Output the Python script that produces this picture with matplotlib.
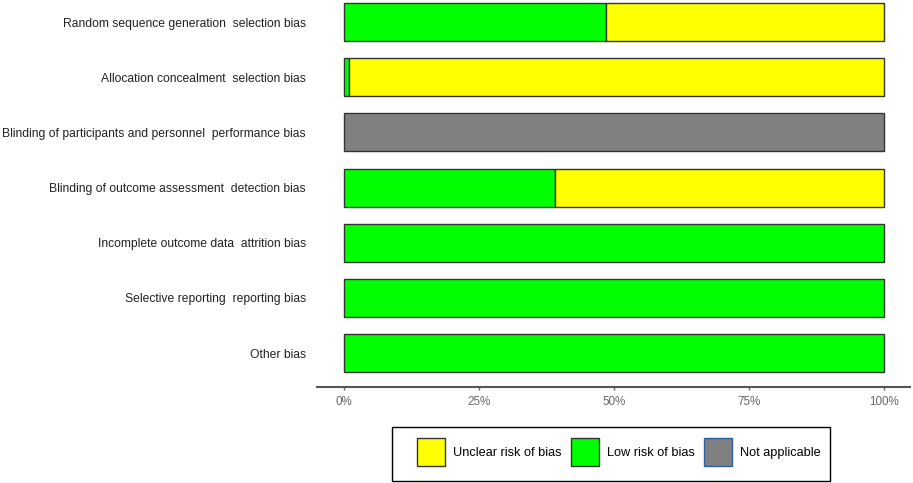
import matplotlib.pyplot as plt
from matplotlib.patches import Patch, Rectangle

# risk of bias domains, top to bottom
domains = [
    "Random sequence generation  selection bias",
    "Allocation concealment  selection bias",
    "Blinding of participants and personnel  performance bias",
    "Blinding of outcome assessment  detection bias",
    "Incomplete outcome data  attrition bias",
    "Selective reporting  reporting bias",
    "Other bias",
]
low_risk = [48.5, 1.0, 0.0, 39.0, 100.0, 100.0, 100.0]
unclear_risk = [51.5, 99.0, 0.0, 61.0, 0.0, 0.0, 0.0]
not_applicable = [0.0, 0.0, 100.0, 0.0, 0.0, 0.0, 0.0]

tick_vals = [0, 25, 50, 75, 100]
tick_labels = ["0%", "25%", "50%", "75%", "100%"]

c_low = "#00ff00"
c_unclear = "#ffff00"
c_na = "#808080"
edge = "#333333"

plt.rcParams['font.family'] = ['Liberation Sans', 'DejaVu Sans']

W, H = 913, 483
fig = plt.figure(figsize=(W / 100, H / 100), dpi=100)
ax = fig.add_axes([317 / W, 1 - 387 / H, 593 / W, 387 / H])

n = len(domains)
ypos = [n - 1 - i for i in range(n)]
h = 0.69

left = [0.0] * n
for vals, col in [(low_risk, c_low), (unclear_risk, c_unclear), (not_applicable, c_na)]:
    for y, l, v in zip(ypos, left, vals):
        if v > 0:
            ax.barh(y, v, left=l, height=h, color=col, edgecolor=edge, linewidth=1.0)
    left = [a + b for a, b in zip(left, vals)]

ax.set_xlim(-5, 104.8)
ax.set_ylim(-0.616, n - 1 + 0.40)

ax.set_yticks(ypos)
ax.set_yticklabels(domains, fontsize=8.7, color="#222222")
ax.tick_params(axis='y', length=0, pad=8)

ax.set_xticks(tick_vals)
ax.set_xticklabels(tick_labels, fontsize=8.4, color="#666666")
ax.tick_params(axis='x', length=2.5, width=1, color="#666666", pad=4)

for s in ['top', 'right', 'left']:
    ax.spines[s].set_visible(False)
ax.spines['bottom'].set_color("#555555")
ax.spines['bottom'].set_linewidth(1.5)

# legend frame drawn separately to match the wide side padding
fig.patches.append(Rectangle((392 / W, 1 - 481 / H), 438 / W, 54 / H,
                             transform=fig.transFigure, fill=False,
                             edgecolor="black", linewidth=1.0))

handles = [
    Patch(facecolor=c_unclear, edgecolor=edge, label="Unclear risk of bias"),
    Patch(facecolor=c_low, edgecolor=edge, label="Low risk of bias"),
    Patch(facecolor=c_na, edgecolor="#3060a0", label="Not applicable"),
]
fig.legend(handles=handles, loc='center', bbox_to_anchor=(619 / W, 1 - 452 / H),
           ncol=3, fontsize=9.2, frameon=False, handlelength=2.2, handleheight=3.1,
           columnspacing=0.75, handletextpad=0.6, borderpad=0, borderaxespad=0)

fig.savefig("out.png", dpi=100)
